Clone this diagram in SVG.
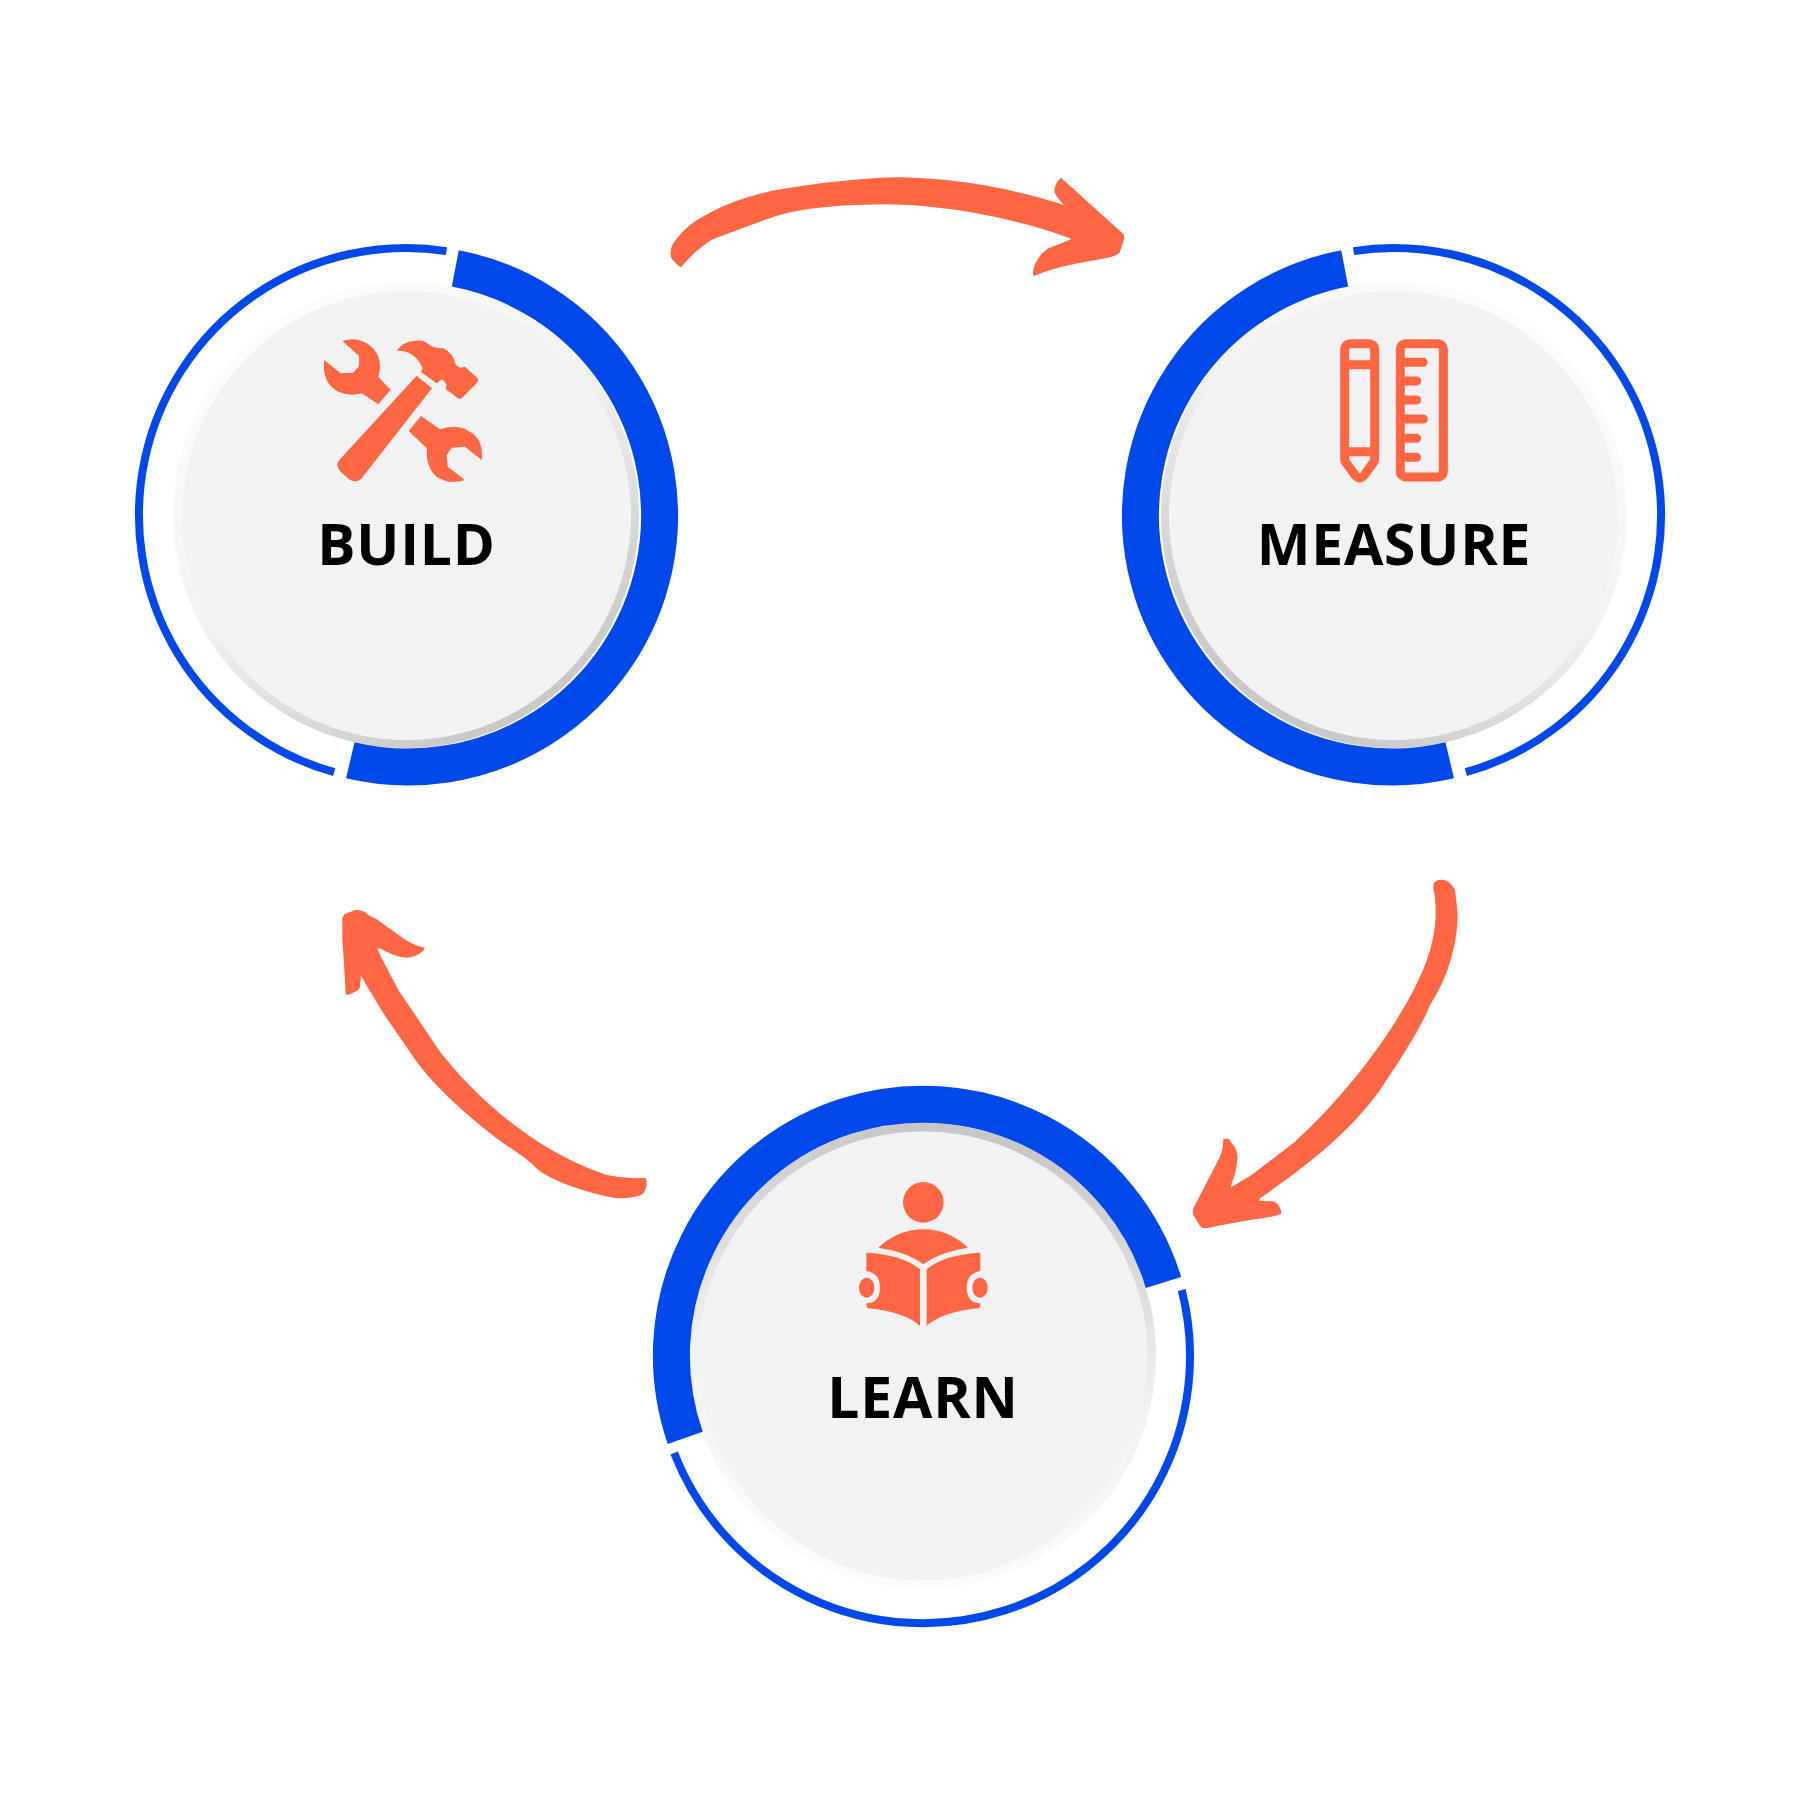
<svg xmlns="http://www.w3.org/2000/svg" width="1800" height="1800" viewBox="0 0 1800 1800">
<style>
.thick{fill:none;stroke:#0048e9;stroke-width:37}
.thin{fill:none;stroke:#0048e9;stroke-width:8}
.disk{fill:#f2f2f2}
.ic{fill:#ff6644}
.ln{fill:none;stroke:#ff6644;stroke-width:27;stroke-linecap:round;stroke-linejoin:round}
.lab{font-family:"Open Sans",sans-serif;font-weight:700;font-size:57px;fill:#000;text-anchor:middle;letter-spacing:.8px}
.arrow{fill:#ff6644}
</style>
<defs>
<linearGradient id="gb" x1="0.2" y1="0.1" x2="0.75" y2="0.95"><stop offset="0" stop-color="#fcfcfc"/><stop offset="0.45" stop-color="#f2f2f2"/><stop offset="1" stop-color="#c6c6c6"/></linearGradient>
<linearGradient id="gm" x1="0.8" y1="0.1" x2="0.25" y2="0.95"><stop offset="0" stop-color="#fcfcfc"/><stop offset="0.45" stop-color="#f2f2f2"/><stop offset="1" stop-color="#c6c6c6"/></linearGradient>
<linearGradient id="gl" x1="0.4" y1="1" x2="0.55" y2="0"><stop offset="0" stop-color="#fcfcfc"/><stop offset="0.45" stop-color="#f2f2f2"/><stop offset="1" stop-color="#c6c6c6"/></linearGradient>
</defs>
<rect width="1800" height="1800" fill="#fff"/>
<g id="connectors">
<path class="arrow" transform="translate(660,160) scale(.33333)" d="M63,322 Q50,315 36,298 Q25,275 40,250 C60,222 85,195 120,175 C200,125 300,95 400,82 C530,62 650,52 720,52 C900,55 1050,85 1212,135 Q1190,112 1183,95 Q1183,70 1203,53 L1390,222 Q1395,230 1391,240 L1380,275 Q1375,285 1350,292 C1290,305 1200,315 1122,348 L1118,342 Q1122,295 1165,265 Q1200,252 1235,237 C1130,195 900,135 680,133 C500,135 400,148 320,178 L160,237 Q110,265 63,322 Z"/>
<path class="arrow" transform="translate(1180,870) scale(.33333)" d="M760,55 Q757,35 775,30 Q795,28 805,35 Q818,45 825,60 L833,130 C833,230 800,330 750,405 C720,480 660,570 600,660 C520,770 420,860 240,985 L237,992 Q260,993 285,995 Q300,1005 305,1030 Q290,1040 210,1050 L110,1068 Q85,1075 70,1075 Q62,1072 58,1065 L40,1035 Q37,1025 40,1015 L120,860 Q130,835 130,806 L147,806 Q150,815 160,825 Q175,845 172,870 Q168,910 155,940 L153,952 L215,915 L345,815 C450,720 560,590 640,465 C690,385 767,260 767,130 Q767,85 760,55 Z"/>
<path class="arrow" transform="translate(330,900) scale(.33333)" d="M37,55 Q40,45 45,42 L75,30 Q100,28 115,45 L140,58 L230,122 Q255,137 285,144 Q275,165 240,172 Q205,178 150,145 L142,146 L150,165 L205,270 L330,455 C420,570 600,750 830,825 Q890,838 947,833 Q955,860 940,880 Q925,895 860,895 C780,880 680,850 625,810 Q600,785 580,770 C470,700 330,580 260,485 L160,340 L100,240 L93,225 L90,260 Q88,270 82,272 L55,285 L47,283 L42,190 L37,120 Z"/>
</g>
<g id="build">
<circle cx="406" cy="515" r="233" fill="url(#gb)"/>
<circle class="disk" cx="406.5" cy="515.5" r="224.5"/>
<path class="thin" d="M446.4,251.1 A267,267 0 0 0 334.2,772.2"/>
<path class="thick" d="M455.3,268.4 A251.5,251.5 0 1 1 350.3,760.2"/>
<g class="ic" transform="translate(300,320) scale(.33333)">
<path d="M127,63 Q165,50 200,70 Q240,95 240,140 Q240,155 235,170 L272,210 L235,253 L185,220 Q150,230 115,215 Q65,190 73,120 L122,160 L160,158 L177,138 L177,107 Z"/>
<path d="M290,92 Q310,62 350,62 Q370,60 385,72 Q400,85 430,85 Q460,100 465,130 Q475,148 495,140 L533,175 Q537,182 533,187 L485,235 Q478,240 470,232 L437,207 Q445,190 425,178 L410,190 L362,155 L368,145 Q345,90 290,92 Z"/>
<path d="M350,167 L396,205 L185,475 Q170,490 150,480 L120,453 Q105,435 118,420 Z"/>
<path d="M363,288 L420,328 Q470,310 510,335 Q552,360 545,420 L495,380 L455,383 L440,405 L443,440 L495,480 Q450,495 410,470 Q378,445 380,385 L326,333 Z"/>
</g>
<text class="lab" x="406.5" y="565">BUILD</text>
</g>
<g id="measure">
<circle cx="1394" cy="515" r="233" fill="url(#gm)"/>
<circle class="disk" cx="1393.5" cy="515.5" r="224.5"/>
<path class="thin" d="M1353.6,251.1 A267,267 0 0 1 1465.8,772.2"/>
<path class="thick" d="M1344.7,268.4 A251.5,251.5 0 1 0 1449.7,760.2"/>
<g transform="translate(1320,320) scale(.33333)">
<path class="ln" d="M94,71 H144 Q164,71 164,91 V415 Q164,425 157,432 L133,465 Q119,483 105,465 L81,432 Q74,425 74,415 V91 Q74,71 94,71 Z M74,134 H164 M74,395 H164"/>
<rect class="ln" x="241" y="71" width="129" height="400" rx="16"/>
<path class="ln" d="M241,127 H310 M241,183 H290 M241,240 H290 M241,297 H310 M241,355 H290 M241,412 H290"/>
</g>
<text class="lab" x="1394" y="565">MEASURE</text>
</g>
<g id="learn">
<circle cx="923" cy="1356" r="233" fill="url(#gl)"/>
<circle class="disk" cx="923" cy="1356" r="224.5"/>
<path class="thin" d="M1181.7,1290 A267,267 0 0 1 674.2,1453"/>
<path class="thick" d="M1163.5,1282.5 A251.5,251.5 0 1 0 685.2,1437.9"/>
<g class="ic" transform="translate(840,1170) scale(.33333)">
<circle cx="250" cy="97" r="61"/>
<path d="M115,233 Q175,178 250,178 Q325,178 384,233 Q300,245 250,283 Q200,245 115,233 Z"/>
<path d="M79,250 Q80,248 83,248 Q190,255 240,298 V467 Q190,425 85,415 Q78,413 79,400 Q120,400 120,352 Q120,310 79,303 Z"/>
<path d="M421,250 Q420,248 417,248 Q310,255 260,298 V467 Q310,425 415,415 Q422,413 421,400 Q380,400 380,352 Q380,310 421,303 Z"/>
<ellipse cx="80" cy="353" rx="23" ry="30"/>
<ellipse cx="420" cy="353" rx="23" ry="30"/>
</g>
<text class="lab" x="923" y="1418">LEARN</text>
</g>
</svg>
